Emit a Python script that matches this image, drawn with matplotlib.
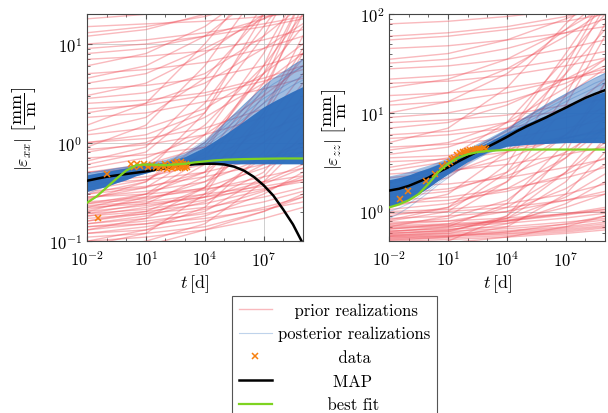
import numpy as np
import matplotlib
matplotlib.use("Agg")
import matplotlib.pyplot as plt
from matplotlib.ticker import LogLocator, NullFormatter

plt.rcParams['font.family'] = 'serif'
plt.rcParams['font.serif'] = ['cmr10']
plt.rcParams['mathtext.fontset'] = 'cm'
plt.rcParams['axes.formatter.use_mathtext'] = True

t_nodes = [1e-2, 1e1, 1e4, 1e7, 1e9]

# prior realizations, |eps_xx| [mm/m] at t_nodes
prior_xx = [
    [0.07, 0.09, 0.13, 0.20, 0.28], [0.08, 0.10, 0.15, 0.40, 1.00],
    [0.09, 0.12, 0.30, 2.00, 12.0], [0.11, 0.12, 0.14, 0.20, 0.30],
    [0.12, 0.14, 0.18, 0.30, 0.50], [0.13, 0.15, 0.20, 0.45, 1.20],
    [0.14, 0.16, 0.19, 0.25, 0.32], [0.15, 0.18, 0.25, 0.50, 1.50],
    [0.16, 0.20, 0.35, 1.20, 4.00], [0.17, 0.19, 0.22, 0.28, 0.35],
    [0.18, 0.22, 0.30, 0.60, 1.10], [0.19, 0.24, 0.45, 2.00, 9.00],
    [0.20, 0.23, 0.28, 0.40, 0.60], [0.21, 0.26, 0.40, 1.00, 2.50],
    [0.22, 0.30, 0.70, 4.00, 30.0], [0.23, 0.25, 0.30, 0.36, 0.42],
    [0.24, 0.30, 0.50, 1.50, 5.00], [0.25, 0.28, 0.33, 0.45, 0.55],
    [0.27, 0.35, 0.80, 6.00, 40.0], [0.28, 0.32, 0.40, 0.70, 1.00],
    [0.30, 0.40, 1.00, 5.00, 15.0], [0.30, 0.35, 0.50, 3.00, 25.0],
    [0.32, 0.36, 0.45, 0.60, 0.80], [0.35, 0.50, 2.00, 20.0, 60.0],
    [0.40, 0.45, 0.60, 1.00, 1.60], [0.45, 0.60, 1.50, 6.00, 20.0],
    [0.50, 0.55, 0.70, 1.20, 2.00], [0.50, 0.60, 0.90, 5.00, 30.0],
    [0.60, 0.80, 2.50, 15.0, 50.0], [0.70, 0.75, 0.90, 1.30, 1.80],
    [0.80, 1.00, 1.80, 4.00, 8.00], [0.90, 1.50, 6.00, 40.0, 100.],
    [1.00, 1.10, 1.40, 2.20, 3.50], [1.00, 1.20, 2.00, 12.0, 60.0],
    [1.20, 1.40, 2.20, 5.00, 10.0], [1.50, 2.50, 10.0, 50.0, 100.],
    [1.80, 2.00, 2.60, 3.50, 4.50], [2.00, 2.50, 4.00, 9.00, 16.0],
    [2.50, 2.70, 3.20, 4.50, 6.00], [3.00, 4.00, 8.00, 20.0, 40.0],
    [3.50, 3.80, 4.50, 6.00, 8.00], [4.00, 5.00, 9.00, 18.0, 30.0],
    [5.00, 5.50, 6.50, 9.00, 12.0], [6.00, 8.00, 15.0, 40.0, 80.0],
    [7.00, 7.50, 8.50, 11.0, 14.0], [8.00, 9.00, 12.0, 18.0, 25.0],
    [10.0, 11.0, 13.0, 16.0, 19.0], [12.0, 14.0, 20.0, 40.0, 60.0],
    [15.0, 16.0, 17.0, 19.0, 21.0], [18.0, 20.0, 25.0, 35.0, 50.0],
    [0.10, 0.11, 0.13, 0.17, 0.22], [0.10, 0.13, 0.22, 0.80, 3.00],
    [0.12, 0.13, 0.16, 0.22, 0.28], [0.13, 0.17, 0.35, 1.80, 8.00],
    [0.14, 0.15, 0.17, 0.21, 0.25], [0.15, 0.17, 0.21, 0.32, 0.45],
    [0.16, 0.19, 0.28, 0.70, 2.00], [0.18, 0.20, 0.24, 0.33, 0.42],
    [0.19, 0.21, 0.26, 0.38, 0.55], [0.20, 0.28, 0.60, 3.50, 20.0],
    [0.22, 0.24, 0.28, 0.34, 0.40], [0.24, 0.27, 0.35, 0.55, 0.80],
    [0.26, 0.40, 1.20, 8.00, 40.0], [0.28, 0.30, 0.34, 0.40, 0.46],
    [0.33, 0.42, 0.75, 2.50, 7.00], [0.38, 0.42, 0.50, 0.70, 0.90],
    [0.55, 0.70, 1.20, 3.00, 6.00], [0.65, 0.90, 3.50, 25.0, 80.0],
    [0.85, 0.95, 1.20, 1.80, 2.60], [1.30, 1.80, 4.50, 20.0, 60.0],
    [2.20, 2.40, 3.00, 4.20, 5.50], [2.80, 3.20, 5.00, 12.0, 25.0],
    [4.50, 6.00, 12.0, 35.0, 70.0], [9.00, 10.0, 12.0, 15.0, 18.0],
    [13.0, 15.0, 19.0, 28.0, 40.0],
]

# prior realizations, |eps_zz| [mm/m] at t_nodes
prior_zz = [
    [0.40, 0.50, 0.90, 4.00, 20.0], [0.45, 0.48, 0.55, 0.70, 0.90],
    [0.52, 0.54, 0.57, 0.62, 0.68], [0.53, 0.56, 0.62, 0.75, 0.90],
    [0.55, 0.57, 0.60, 0.66, 0.72], [0.56, 0.60, 0.75, 1.20, 2.00],
    [0.57, 0.62, 0.90, 2.50, 7.00], [0.58, 0.60, 0.64, 0.70, 0.78],
    [0.60, 0.65, 0.80, 1.10, 1.50], [0.62, 0.70, 1.20, 5.00, 20.0],
    [0.64, 0.66, 0.70, 0.78, 0.85], [0.66, 0.75, 1.10, 2.50, 5.00],
    [0.68, 0.72, 0.80, 0.95, 1.10], [0.70, 0.90, 2.00, 12.0, 60.0],
    [0.72, 0.75, 0.82, 0.95, 1.05], [0.75, 0.85, 1.30, 3.50, 9.00],
    [0.78, 0.80, 0.86, 0.95, 1.00], [0.80, 1.00, 2.50, 15.0, 80.0],
    [0.85, 0.90, 1.00, 1.30, 1.60], [0.90, 1.10, 2.00, 6.00, 15.0],
    [1.00, 1.05, 1.20, 1.50, 1.90], [1.10, 1.50, 4.00, 30.0, 150.],
    [1.20, 1.30, 1.60, 2.40, 3.50], [1.40, 1.60, 2.50, 6.00, 12.0],
    [1.60, 2.20, 6.00, 40.0, 150.], [1.80, 1.90, 2.20, 2.80, 3.40],
    [2.00, 2.40, 4.00, 10.0, 22.0], [2.40, 2.60, 3.00, 3.80, 4.50],
    [2.80, 3.50, 8.00, 35.0, 100.], [3.20, 3.40, 4.00, 5.50, 7.00],
    [3.80, 4.50, 7.00, 15.0, 28.0], [4.50, 4.80, 5.50, 7.00, 8.50],
    [5.00, 7.00, 18.0, 80.0, 200.], [6.00, 6.50, 8.00, 11.0, 14.0],
    [7.00, 8.00, 12.0, 22.0, 35.0], [8.00, 8.50, 9.50, 12.0, 14.0],
    [10.0, 13.0, 25.0, 70.0, 150.], [12.0, 13.0, 16.0, 22.0, 28.0],
    [15.0, 16.0, 18.0, 22.0, 26.0], [18.0, 22.0, 35.0, 70.0, 120.],
    [22.0, 24.0, 28.0, 35.0, 42.0], [28.0, 30.0, 35.0, 45.0, 55.0],
    [35.0, 40.0, 55.0, 90.0, 130.], [45.0, 48.0, 55.0, 65.0, 75.0],
    [60.0, 65.0, 75.0, 95.0, 120.], [80.0, 85.0, 95.0, 110., 130.],
    [0.50, 0.52, 0.55, 0.60, 0.65], [0.51, 0.55, 0.70, 1.50, 4.00],
    [0.54, 0.56, 0.59, 0.64, 0.70], [0.56, 0.58, 0.62, 0.68, 0.75],
    [0.59, 0.64, 0.85, 2.00, 5.50], [0.61, 0.63, 0.67, 0.74, 0.82],
    [0.63, 0.68, 0.85, 1.40, 2.40], [0.67, 0.70, 0.76, 0.86, 0.96],
    [0.70, 0.73, 0.80, 0.92, 1.05], [0.74, 0.80, 1.00, 1.70, 3.00],
    [0.82, 1.10, 3.00, 25.0, 120.], [0.95, 1.00, 1.10, 1.30, 1.50],
    [1.05, 1.20, 1.70, 3.50, 7.00], [1.30, 1.40, 1.70, 2.20, 2.80],
    [1.50, 1.70, 2.30, 4.00, 7.00], [2.20, 2.50, 3.40, 6.00, 10.0],
    [2.60, 3.20, 6.50, 25.0, 70.0], [3.50, 3.70, 4.30, 5.50, 6.80],
    [4.20, 5.00, 8.00, 18.0, 35.0], [5.50, 6.00, 7.00, 9.00, 11.0],
    [9.00, 10.0, 13.0, 20.0, 30.0], [13.0, 16.0, 28.0, 60.0, 110.],
    [20.0, 21.0, 24.0, 30.0, 36.0], [32.0, 35.0, 45.0, 65.0, 90.0],
    [55.0, 60.0, 70.0, 85.0, 100.],
]

# MAP and best fit, every half decade [d]
t_curve = [0.01, 0.0316, 0.1, 0.316, 1, 3.16, 10, 31.6, 100, 316, 1e3, 3.16e3,
           1e4, 3.16e4, 1e5, 3.16e5, 1e6, 3.16e6, 1e7, 3.16e7, 1e8, 3.16e8, 1e9]
map_xx = [0.41, 0.43, 0.45, 0.465, 0.48, 0.495, 0.51, 0.53, 0.55, 0.57, 0.59, 0.605,
          0.61, 0.61, 0.60, 0.57, 0.52, 0.45, 0.37, 0.29, 0.21, 0.148, 0.095]
fit_xx = [0.245, 0.285, 0.35, 0.43, 0.52, 0.59, 0.60, 0.595, 0.59, 0.60, 0.61, 0.63,
          0.645, 0.66, 0.67, 0.675, 0.68, 0.683, 0.686, 0.688, 0.69, 0.69, 0.69]
map_zz = [1.63, 1.70, 1.82, 2.00, 2.20, 2.50, 2.80, 3.20, 3.60, 4.05, 4.50, 5.05,
          5.70, 6.50, 7.30, 8.10, 9.00, 10.1, 11.3, 12.7, 14.2, 15.6, 17.0]
fit_zz = [1.10, 1.18, 1.30, 1.50, 1.90, 2.50, 3.05, 3.50, 3.80, 4.00, 4.10, 4.17,
          4.20, 4.23, 4.25, 4.25, 4.25, 4.25, 4.25, 4.25, 4.25, 4.25, 4.25]

# posterior spread [d]: lower edge, dense core top, outer top
t_post = [1e-2, 3e-2, 1e-1, 3e-1, 1, 3, 1e1, 1e2, 1e3, 1e4, 1e5, 1e6,
          1e7, 3e7, 1e8, 3e8, 1e9]
post_xx_lo = [0.32, 0.34, 0.36, 0.39, 0.42, 0.46, 0.49, 0.56, 0.59, 0.60,
              0.61, 0.61, 0.61, 0.61, 0.61, 0.61, 0.61]
post_xx_mid = [0.47, 0.49, 0.51, 0.53, 0.55, 0.57, 0.59, 0.63, 0.72, 0.90,
               1.20, 1.65, 2.30, 2.60, 2.95, 3.30, 3.70]
post_xx_hi = [0.50, 0.52, 0.54, 0.56, 0.58, 0.60, 0.62, 0.67, 0.78, 1.05,
              1.60, 2.50, 3.80, 4.50, 5.30, 6.20, 7.20]
post_zz_lo = [1.12, 1.20, 1.32, 1.50, 1.75, 2.05, 2.40, 3.20, 4.00, 4.60,
              4.80, 4.90, 5.00, 5.00, 5.00, 5.00, 5.00]
post_zz_mid = [2.10, 2.20, 2.35, 2.55, 2.75, 3.00, 3.30, 4.10, 5.00, 6.30,
               7.80, 9.50, 11.5, 12.7, 14.0, 15.3, 16.5]
post_zz_hi = [2.30, 2.40, 2.55, 2.75, 2.95, 3.20, 3.50, 4.40, 5.50, 7.00,
              9.50, 12.5, 16.0, 18.0, 20.5, 23.0, 26.0]

# a few individual posterior realizations at t_post
post_xx = [
    [0.46, 0.48, 0.50, 0.52, 0.54, 0.56, 0.58, 0.62, 0.72, 0.95, 1.35, 1.95, 2.8, 3.2, 3.7, 4.2, 4.7],
    [0.44, 0.46, 0.49, 0.51, 0.54, 0.56, 0.58, 0.63, 0.75, 1.00, 1.45, 2.20, 3.3, 3.9, 4.5, 5.2, 5.9],
    [0.48, 0.50, 0.52, 0.54, 0.56, 0.58, 0.60, 0.66, 0.78, 1.05, 1.55, 2.40, 3.7, 4.4, 5.2, 6.0, 6.9],
    [0.42, 0.44, 0.47, 0.50, 0.53, 0.56, 0.58, 0.62, 0.70, 0.90, 1.25, 1.75, 2.5, 2.9, 3.3, 3.8, 4.3],
    [0.30, 0.33, 0.36, 0.40, 0.43, 0.47, 0.50, 0.56, 0.60, 0.62, 0.64, 0.66, 0.70, 0.72, 0.75, 0.78, 0.80],
]
post_zz = [
    [2.00, 2.10, 2.25, 2.45, 2.70, 2.95, 3.25, 4.10, 5.10, 6.60, 8.50, 11.0, 14.0, 15.8, 17.8, 20.0, 22.0],
    [1.90, 2.00, 2.15, 2.35, 2.60, 2.90, 3.20, 4.05, 5.10, 6.80, 9.00, 12.0, 15.5, 17.5, 20.0, 22.5, 25.0],
    [1.00, 1.08, 1.20, 1.40, 1.65, 1.95, 2.30, 3.10, 3.90, 4.50, 4.80, 5.00, 5.20, 5.30, 5.40, 5.50, 5.60],
    [1.70, 1.80, 1.95, 2.15, 2.40, 2.70, 3.00, 3.80, 4.80, 6.20, 8.00, 10.2, 13.0, 14.5, 16.2, 18.0, 20.0],
    [0.85, 0.95, 1.10, 1.30, 1.55, 1.85, 2.20, 3.00, 3.90, 4.60, 5.00, 5.30, 5.60, 5.80, 6.00, 6.20, 6.40],
]

# measured data
t_data_xx = [0.036, 0.11, 1.8, 2.5, 3.5, 5, 8, 12.6, 20, 32, 45, 63, 80,
             100, 126, 158, 200, 224, 282, 316, 355, 398, 447, 501, 562,
             631, 708, 794, 891, 1000, 1122, 1259]
eps_data_xx = [0.17, 0.48, 0.60, 0.57, 0.61, 0.58, 0.60, 0.56, 0.59, 0.57,
               0.55, 0.58, 0.56, 0.60, 0.54, 0.57, 0.59, 0.55, 0.62, 0.56,
               0.58, 0.63, 0.55, 0.60, 0.57, 0.64, 0.56, 0.61, 0.58, 0.55,
               0.60, 0.57]
t_data_zz = [0.036, 0.095, 0.8, 2.2, 4.7, 8.5, 12, 16, 20, 28, 40, 55, 70,
             90, 110, 140, 180, 230, 290, 360, 450, 560, 700, 850]
eps_data_zz = [1.35, 1.60, 2.05, 2.40, 2.90, 3.00, 3.20, 3.40, 3.50, 3.70,
               3.90, 4.00, 4.05, 4.10, 4.15, 4.20, 4.20, 4.25, 4.30, 4.30,
               4.35, 4.30, 4.40, 4.35]

labels = ['prior realizations', 'posterior realizations', 'data', 'MAP', 'best fit']

PINK = '#f0505a'
BLUE = '#2d6ebe'
ORANGE = '#f7800f'
GREEN = '#7ed321'

fig = plt.figure(figsize=(6.08, 4.14), dpi=100)
ax1 = fig.add_axes([0.143, 0.415, 0.355, 0.548])
ax2 = fig.add_axes([0.640, 0.415, 0.355, 0.548])

frac = r'\left[\dfrac{\mathrm{mm}}{\mathrm{m}}\right]'
panels = [
    (ax1, prior_xx, post_xx, post_xx_lo, post_xx_mid, post_xx_hi, map_xx, fit_xx,
     t_data_xx, eps_data_xx, (0.1, 20), r'$|\varepsilon_{xx}|\;' + frac + '$'),
    (ax2, prior_zz, post_zz, post_zz_lo, post_zz_mid, post_zz_hi, map_zz, fit_zz,
     t_data_zz, eps_data_zz, (0.5, 100), r'$|\varepsilon_{zz}|\;' + frac + '$'),
]

handles = []
for ax, prior, post, lo, mid, hi, mp, fit, td, ed, ylim, ylab in panels:
    ax.set_xscale('log')
    ax.set_yscale('log')
    for vals in prior:
        hp, = ax.plot(t_nodes, vals, color=PINK, alpha=0.4, lw=1.0, zorder=1)
    ax.fill_between(t_post, lo, hi, color=BLUE, alpha=0.45, lw=0, zorder=2)
    ax.fill_between(t_post, lo, mid, color=BLUE, alpha=0.95, lw=0, zorder=2)
    for vals in post:
        hq, = ax.plot(t_post, vals, color=BLUE, alpha=0.3, lw=0.8, zorder=2)
    hm, = ax.plot(t_curve, mp, color='black', lw=1.8, zorder=4)
    hd, = ax.plot(td, ed, ls='none', marker='x', ms=4.5, mew=1.1, color=ORANGE, zorder=5)
    hf, = ax.plot(t_curve, fit, color=GREEN, lw=1.6, zorder=6)
    handles = [hp, hq, hd, hm, hf]

    ax.set_xlim(1e-2, 1e9)
    ax.set_ylim(*ylim)
    ax.set_xticks([1e-2, 1e1, 1e4, 1e7])
    ax.xaxis.set_minor_locator(LogLocator(base=10, subs=(1.0,), numticks=30))
    ax.xaxis.set_minor_formatter(NullFormatter())
    ax.yaxis.set_minor_locator(LogLocator(base=10, subs=np.arange(2, 10), numticks=30))
    ax.yaxis.set_minor_formatter(NullFormatter())
    ax.grid(True, which='major', color='#c8c8c8', lw=0.6)
    ax.set_axisbelow(True)
    ax.tick_params(which='both', direction='in', top=True, right=True,
                   labelsize=12, color='#555555')
    ax.tick_params(which='major', length=3.5)
    ax.tick_params(which='minor', length=2)
    ax.tick_params(axis='x', pad=6)
    for s in ax.spines.values():
        s.set_color('#444444')
        s.set_linewidth(0.8)
    ax.set_xlabel(r'$t\,[\mathrm{d}]$', fontsize=13, labelpad=2)
    ax.set_ylabel(ylab, fontsize=13, labelpad=8)

# pad the shorter labels with spaces so that the legend texts look centred
leg_fs = 12
renderer = fig.canvas.get_renderer()
def text_width(s):
    t = fig.text(0, 0, s, fontsize=leg_fs)
    w = t.get_window_extent(renderer).width
    t.remove()
    return w
space_w = text_width('a a') - text_width('aa')
widths = [text_width(s) for s in labels]
wmax = max(widths)
padded = [' ' * int(round((wmax - w) / 2 / space_w)) + s for s, w in zip(labels, widths)]

leg = fig.legend(handles, padded, loc='upper center', bbox_to_anchor=(0.55, 0.283),
                 fontsize=leg_fs, frameon=True, fancybox=False, framealpha=1,
                 edgecolor='#555555', labelspacing=0.5, handlelength=2.0,
                 handletextpad=0.35, borderpad=0.4, borderaxespad=0)
leg.get_frame().set_linewidth(0.8)

fig.savefig('out.png', dpi=100)
